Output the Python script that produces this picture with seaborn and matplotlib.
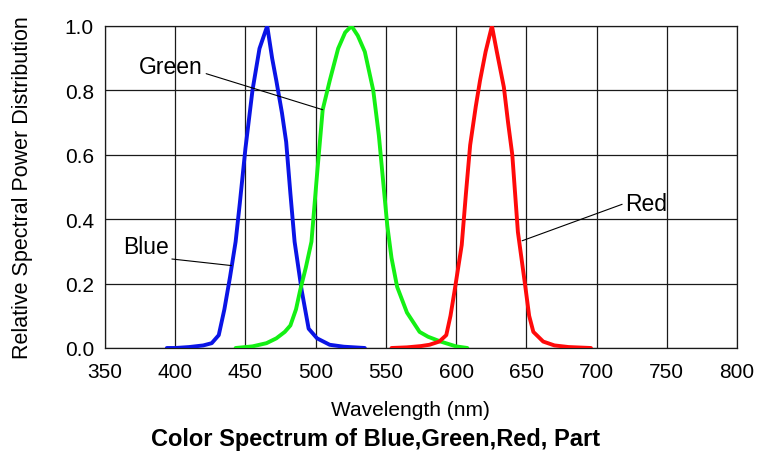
import numpy as np
import pandas as pd
import matplotlib
matplotlib.use("Agg")
import matplotlib.pyplot as plt
import seaborn as sns

# spectra (wavelength in nm, relative power)
blue_nm = [394, 400, 410, 420, 426, 431, 435, 439, 443, 446, 450, 455, 460, 465.5,
           469, 472, 476, 479, 482, 485, 490, 495, 501, 510, 520, 535]
blue_pw = [0.0, 0.0, 0.003, 0.008, 0.015, 0.04, 0.12, 0.22, 0.33, 0.45, 0.62, 0.80, 0.93, 1.0,
           0.90, 0.83, 0.73, 0.64, 0.48, 0.33, 0.18, 0.06, 0.03, 0.01, 0.004, 0.0]

green_nm = [443, 455, 465, 472, 478, 482, 486, 489, 493, 497, 501, 505, 510, 516, 521, 525.5,
            530, 535, 541, 545, 548, 551, 554, 558, 565, 574, 580, 589, 600, 608]
green_pw = [0.0, 0.005, 0.015, 0.03, 0.05, 0.07, 0.12, 0.18, 0.25, 0.33, 0.54, 0.74, 0.83, 0.93,
            0.98, 1.0, 0.97, 0.92, 0.80, 0.66, 0.52, 0.38, 0.28, 0.19, 0.11, 0.05, 0.035, 0.02,
            0.005, 0.0]

red_nm = [554, 565, 575, 581, 588, 593, 596, 599, 604, 607, 610, 614, 617, 621, 625.5,
          629, 634, 637, 640, 644, 649, 652, 655, 662, 670, 680, 696]
red_pw = [0.0, 0.002, 0.006, 0.01, 0.02, 0.04, 0.10, 0.18, 0.32, 0.48, 0.63, 0.75, 0.83, 0.92, 1.0,
          0.92, 0.81, 0.70, 0.60, 0.36, 0.20, 0.10, 0.05, 0.02, 0.008, 0.003, 0.0]

x_ticks = [350, 400, 450, 500, 550, 600, 650, 700, 750, 800]
y_ticks = [0.0, 0.2, 0.4, 0.6, 0.8, 1.0]

sns.set_style("white")
plt.rcParams['font.family'] = ['Liberation Sans', 'DejaVu Sans']
plt.rcParams['text.color'] = 'black'
plt.rcParams['axes.labelcolor'] = 'black'
plt.rcParams['xtick.color'] = 'black'
plt.rcParams['ytick.color'] = 'black'

fig = plt.figure(figsize=(7.63, 4.60), dpi=100)
ax = fig.add_axes([105 / 763, 1 - 349 / 460, (737 - 105) / 763, (349 - 27) / 460])

for nm, pw, col in [(blue_nm, blue_pw, '#0a14e6'),
                    (green_nm, green_pw, '#14f014'),
                    (red_nm, red_pw, '#ff0a0a')]:
    d = pd.DataFrame({'nm': nm, 'pw': pw})
    sns.lineplot(data=d, x='nm', y='pw', color=col, linewidth=2.8, ax=ax, zorder=3)

ax.set_xlim(350, 800)
ax.set_ylim(0, 1.0)
ax.set_xticks(x_ticks)
ax.set_yticks(y_ticks)
ax.set_yticklabels(['{:.1f}'.format(v) for v in y_ticks])
ax.grid(True, color='#1a1a1a', linewidth=0.9)
for s in ax.spines.values():
    s.set_color('#1a1a1a')
    s.set_linewidth(0.9)
ax.tick_params(axis='both', length=0, labelsize=15)
ax.tick_params(axis='y', pad=8)
ax.tick_params(axis='x', pad=10)

ax.set_xlabel('Wavelength (nm)', fontsize=15)
ax.set_ylabel('Relative Spectral Power Distribution', fontsize=15.5)
ax.xaxis.set_label_coords(0.484, -0.19)
ax.xaxis.label.set_va('center')
ax.yaxis.set_label_coords(-0.131, 0.5)
ax.yaxis.label.set_va('center')

# callout labels
ax.annotate('Green', xy=(505, 0.74), xytext=(397, 0.873), fontsize=16.5,
            ha='center', va='center',
            arrowprops=dict(arrowstyle='-', color='black', lw=0.8, shrinkA=0, shrinkB=0,
                            relpos=(1.0, 0.25)))
ax.annotate('Blue', xy=(440, 0.256), xytext=(379, 0.314), fontsize=16.5,
            ha='center', va='center',
            arrowprops=dict(arrowstyle='-', color='black', lw=0.8, shrinkA=0, shrinkB=0,
                            relpos=(0.95, 0.0)))
ax.annotate('Red', xy=(647, 0.333), xytext=(735.5, 0.45), fontsize=16.5,
            ha='center', va='center',
            arrowprops=dict(arrowstyle='-', color='black', lw=0.8, shrinkA=0, shrinkB=0,
                            relpos=(0.0, 0.5)))

fig.text(376 / 763, 1 - 440 / 460, 'Color Spectrum of Blue,Green,Red, Part',
         ha='center', va='center', fontsize=17, fontweight='bold')

fig.savefig('out.png', dpi=100)
